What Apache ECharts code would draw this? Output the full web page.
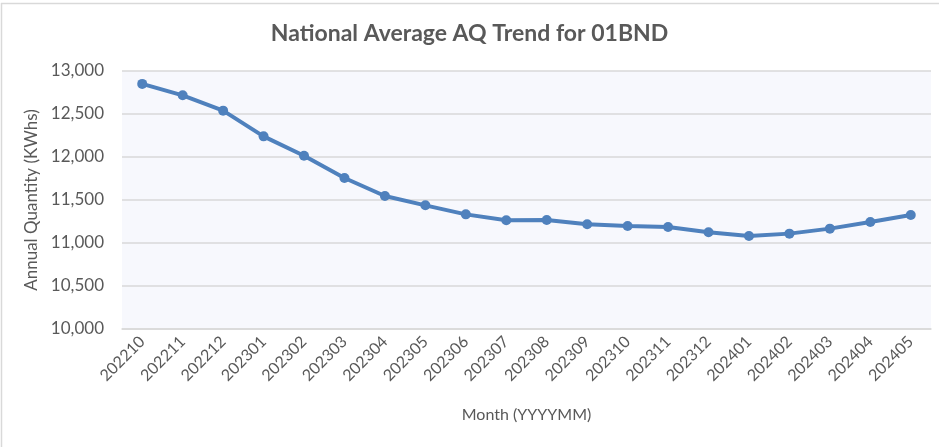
<!DOCTYPE html>
<html>
<head>
<meta charset="utf-8">
<script src="https://cdn.jsdelivr.net/npm/echarts@6/dist/echarts.min.js"></script>
<style>
  html, body { margin: 0; padding: 0; background: #fff; }
  #chart { width: 939px; height: 447px; }
</style>
</head>
<body>
<div id="chart"></div>
<script>
// months on the x axis
var months = ['202210', '202211', '202212', '202301', '202302', '202303', '202304',
  '202305', '202306', '202307', '202308', '202309', '202310', '202311', '202312',
  '202401', '202402', '202403', '202404', '202405'];
// average annual quantity (KWhs)
var aqValues = [12850, 12717, 12539, 12240, 12015, 11756, 11547, 11438, 11333, 11264,
  11267, 11217, 11198, 11186, 11124, 11081, 11109, 11167, 11244, 11326];

var textColor = '#595959';
var font = 'Lato, "Open Sans", sans-serif';

var myChart = echarts.init(document.getElementById('chart'));
var option = {
  backgroundColor: '#ffffff',
  title: {
    text: 'National Average AQ Trend for 01BND',
    left: 'center',
    top: 17,
    textStyle: { color: textColor, fontSize: 23, fontWeight: 'bold', fontFamily: font }
  },
  graphic: [
    { type: 'line', shape: { x1: 1, y1: 3.5, x2: 939, y2: 3.5 }, style: { stroke: '#d9d9d9', lineWidth: 1.5 } },
    { type: 'line', shape: { x1: 1.5, y1: 3, x2: 1.5, y2: 447 }, style: { stroke: '#d9d9d9', lineWidth: 1.5 } }
  ],
  grid: {
    left: 122,
    right: 8,
    top: 71,
    bottom: 118,
    show: true,
    backgroundColor: '#f7f8fd',
    borderWidth: 0
  },
  xAxis: {
    type: 'category',
    data: months,
    boundaryGap: true,
    name: 'Month (YYYYMM)',
    nameLocation: 'middle',
    nameGap: 78,
    nameTextStyle: { color: textColor, fontSize: 16, fontFamily: font },
    axisLine: { show: true, lineStyle: { color: '#d9d9d9', width: 1.5 } },
    axisTick: { show: false },
    axisLabel: { rotate: 45, color: textColor, fontSize: 16, fontFamily: font, margin: 10, interval: 0 }
  },
  yAxis: {
    type: 'value',
    min: 10000,
    max: 13000,
    interval: 500,
    name: 'Annual Quantity (KWhs)',
    nameLocation: 'middle',
    nameGap: 78,
    nameTextStyle: { color: textColor, fontSize: 17, fontFamily: font },
    axisLine: { show: false },
    axisTick: { show: false },
    splitLine: { lineStyle: { color: '#d9d9d9', width: 1.5 } },
    axisLabel: {
      color: textColor, fontSize: 17, fontFamily: font, margin: 18,
      formatter: function (v) { return v.toLocaleString('en-US'); }
    }
  },
  series: [{
    type: 'line',
    data: aqValues,
    symbol: 'circle',
    symbolSize: 10,
    lineStyle: { color: '#4f81bd', width: 4 },
    itemStyle: { color: '#4f81bd' },
    animation: false
  }]
};
myChart.setOption(option);
</script>
</body>
</html>
